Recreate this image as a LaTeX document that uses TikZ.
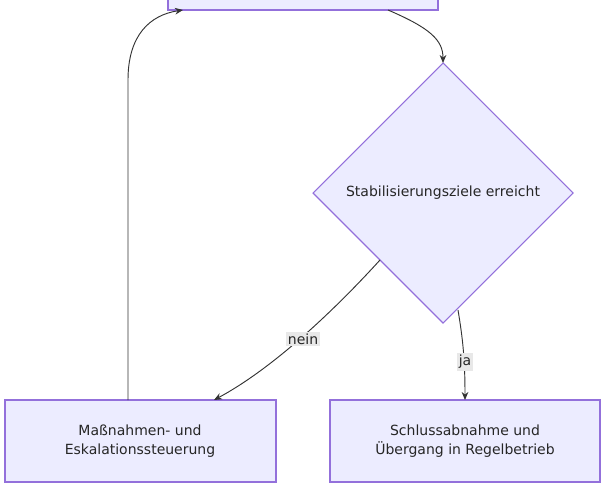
\documentclass[tikz,border=0pt]{standalone}
\usepackage{fontspec}
\setmainfont{DejaVu Sans}
\usetikzlibrary{arrows.meta}
\definecolor{nfill}{HTML}{ECECFF}
\definecolor{nstroke}{HTML}{9370DB}
\definecolor{lbl}{HTML}{E8E8E8}
\definecolor{edge}{HTML}{333333}
\begin{document}
\begin{tikzpicture}[x=0.75pt,y=-0.75pt,
  box/.style={draw=nstroke,fill=nfill,line width=0.8pt},
  txt/.style={font=\fontsize{10.5}{14}\selectfont,align=center,text=black!85},
  lab/.style={fill=lbl,inner sep=1.5pt,font=\fontsize{10.5}{13}\selectfont,text=black!85},
  arr/.style={draw=edge,line width=0.7pt,-{Stealth[length=6pt,width=5pt]}}]
\useasboundingbox (0,0) rectangle (610,496);
\draw[box] (168,-5) rectangle (438,10);
\coordinate (top) at (303,10);
\draw[box] (443,63) -- (573,193) -- (443,323) -- (313,193) -- cycle;
\node[txt] (d) at (443,193) {Stabilisierungsziele erreicht};
\draw[box] (5,400) rectangle (276,482);
\node[txt] (l) at (140,441) {Maßnahmen- und\\Eskalationssteuerung};
\draw[box] (330,400) rectangle (600,482);
\node[txt] (r) at (465,441) {Schlussabnahme und\\Übergang in Regelbetrieb};
\coordinate (t1) at (388,10);
\coordinate (dt) at (443,63);
\draw[arr] (t1) .. controls (430,28) and (443,40) .. (dt);
\coordinate (dl) at (380,260);
\coordinate (lt) at (214,400);
\draw[arr] (dl) .. controls (330,315) and (270,370) .. (lt);
\node[lab] (nein) at (303,339) {nein};
\coordinate (dr) at (458,310);
\coordinate (rt) at (465,400);
\draw[arr] (dr) .. controls (463,340) and (465,360) .. (rt);
\node[lab] (ja) at (465,362) {ja};
\coordinate (lu) at (128,400);
\coordinate (tl) at (183,10);
\draw[arr] (lu) -- (128,80) .. controls (128,35) and (150,15) .. (tl);
\end{tikzpicture}
\end{document}
